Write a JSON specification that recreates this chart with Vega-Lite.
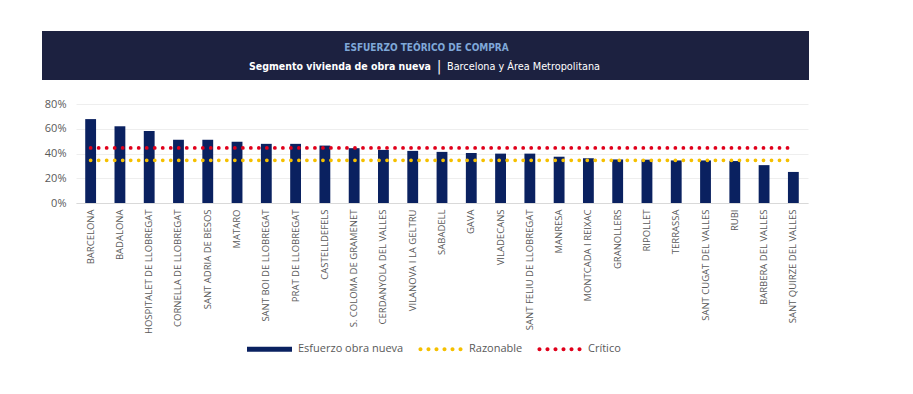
{
  "$schema": "https://vega.github.io/schema/vega-lite/v6.json",
  "padding": {"left": 44, "top": 31, "right": 0, "bottom": 0},
  "background": "white",
  "spacing": 18,
  "config": {
    "view": {"stroke": null},
    "font": "Open Sans",
    "axis": {"labelFont": "Open Sans", "labelColor": "#595959"}
  },
  "vconcat": [
    {
      "width": 733,
      "height": 49,
      "view": {"fill": "#1c2140", "stroke": null},
      "data": {"values": [
        {"k": "a", "part": "title", "t": "ESFUERZO TEÓRICO DE COMPRA"},
        {"k": "b", "part": "bold", "t": "Segmento vivienda de obra nueva"},
        {"k": "b", "part": "bar", "t": "|"},
        {"k": "b", "part": "reg", "t": "Barcelona y Área Metropolitana"}
      ]},
      "encoding": {
        "y": {
          "field": "k", "type": "nominal", "title": null,
          "scale": {"type": "point", "domain": ["a", "b"], "padding": 0.76},
          "axis": {"labels": false, "ticks": false, "grid": false, "domain": true, "domainColor": "#1c2140", "domainWidth": 36, "offset": 16, "domainCap": "butt", "translate": 0}
        },
        "text": {"field": "t"}
      },
      "layer": [
        {"transform": [{"filter": "datum.part === 'title'"}], "mark": {"type": "text", "font": "DejaVu Sans Condensed, Roboto", "fontWeight": "bold", "fontSize": 10, "color": "#7fa8d8", "align": "center", "baseline": "middle", "dx": -16, "dy": 2}},
        {"transform": [{"filter": "datum.part === 'bold'"}], "mark": {"type": "text", "font": "DejaVu Sans Condensed, Roboto", "fontWeight": "bold", "fontSize": 10.5, "color": "#ffffff", "align": "right", "baseline": "middle", "dx": -11.5, "dy": 2}},
        {"transform": [{"filter": "datum.part === 'bar'"}], "mark": {"type": "text", "font": "DejaVu Sans Condensed, Roboto", "fontSize": 14, "color": "#ffffff", "align": "center", "baseline": "middle", "dx": -3.5, "dy": 2}},
        {"transform": [{"filter": "datum.part === 'reg'"}], "mark": {"type": "text", "font": "DejaVu Sans Condensed, Roboto", "fontSize": 10.8, "color": "#ffffff", "align": "left", "baseline": "middle", "dx": 4.5, "dy": 2}}
      ]
    },
    {
      "width": 732,
      "height": 99,
      "data": {"values": [
        {"municipio": "BARCELONA", "esfuerzo": 0.678, "razonable": 0.345, "critico": 0.445},
        {"municipio": "BADALONA", "esfuerzo": 0.62, "razonable": 0.345, "critico": 0.445},
        {"municipio": "HOSPITALET DE LLOBREGAT", "esfuerzo": 0.582, "razonable": 0.345, "critico": 0.445},
        {"municipio": "CORNELLA DE LLOBREGAT", "esfuerzo": 0.511, "razonable": 0.345, "critico": 0.445},
        {"municipio": "SANT ADRIA DE BESOS", "esfuerzo": 0.511, "razonable": 0.345, "critico": 0.445},
        {"municipio": "MATARO", "esfuerzo": 0.495, "razonable": 0.345, "critico": 0.445},
        {"municipio": "SANT BOI DE LLOBREGAT", "esfuerzo": 0.478, "razonable": 0.345, "critico": 0.445},
        {"municipio": "PRAT DE LLOBREGAT", "esfuerzo": 0.478, "razonable": 0.345, "critico": 0.445},
        {"municipio": "CASTELLDEFELS", "esfuerzo": 0.464, "razonable": 0.345, "critico": 0.445},
        {"municipio": "S. COLOMA DE GRAMENET", "esfuerzo": 0.443, "razonable": 0.345, "critico": 0.445},
        {"municipio": "CERDANYOLA DEL VALLES", "esfuerzo": 0.429, "razonable": 0.345, "critico": 0.445},
        {"municipio": "VILANOVA I LA GELTRU", "esfuerzo": 0.421, "razonable": 0.345, "critico": 0.445},
        {"municipio": "SABADELL", "esfuerzo": 0.413, "razonable": 0.345, "critico": 0.445},
        {"municipio": "GAVA", "esfuerzo": 0.404, "razonable": 0.345, "critico": 0.445},
        {"municipio": "VILADECANS", "esfuerzo": 0.399, "razonable": 0.345, "critico": 0.445},
        {"municipio": "SANT FELIU DE LLOBREGAT", "esfuerzo": 0.399, "razonable": 0.345, "critico": 0.445},
        {"municipio": "MANRESA", "esfuerzo": 0.374, "razonable": 0.345, "critico": 0.445},
        {"municipio": "MONTCADA I REIXAC", "esfuerzo": 0.361, "razonable": 0.345, "critico": 0.445},
        {"municipio": "GRANOLLERS", "esfuerzo": 0.352, "razonable": 0.345, "critico": 0.445},
        {"municipio": "RIPOLLET", "esfuerzo": 0.35, "razonable": 0.345, "critico": 0.445},
        {"municipio": "TERRASSA", "esfuerzo": 0.344, "razonable": 0.345, "critico": 0.445},
        {"municipio": "SANT CUGAT DEL VALLES", "esfuerzo": 0.344, "razonable": 0.345, "critico": 0.445},
        {"municipio": "RUBI", "esfuerzo": 0.339, "razonable": 0.345, "critico": 0.445},
        {"municipio": "BARBERA DEL VALLES", "esfuerzo": 0.306, "razonable": 0.345, "critico": 0.445},
        {"municipio": "SANT QUIRZE DEL VALLES", "esfuerzo": 0.251, "razonable": 0.345, "critico": 0.445}
      ]},
      "encoding": {
        "x": {
          "field": "municipio", "type": "nominal", "sort": null, "title": null,
          "scale": {"paddingInner": 0.63, "paddingOuter": 0.315},
          "axis": {"labelAngle": -90, "labelFontSize": 9.5, "labelPadding": 6, "ticks": false, "domainColor": "#d9d9d9", "grid": false, "labelLimit": 200}
        }
      },
      "layer": [
        {
          "mark": {"type": "bar", "color": "#0a2160"},
          "encoding": {
            "y": {
              "field": "esfuerzo", "type": "quantitative", "title": null,
              "scale": {"domain": [0, 0.8]},
              "axis": {"values": [0, 0.2, 0.4, 0.6, 0.8], "format": ".0%", "labelFontSize": 11, "labelPadding": 10, "labelOverlap": false, "ticks": false, "domain": false, "gridColor": "#eeeeee"}
            },
            "color": {
              "datum": "Esfuerzo obra nueva",
              "scale": {"domain": ["Esfuerzo obra nueva", "Razonable", "Crítico"], "range": ["#0a2160", "#f5c000", "#e0001b"]},
              "legend": {
                "title": null, "orient": "none", "legendX": 171, "legendY": 295.5, "direction": "horizontal",
                "labelFontSize": 11, "labelColor": "#595959", "labelFont": "Open Sans",
                "symbolSize": 2025, "labelOffset": 6, "columnPadding": 14,
                "encode": {
                  "symbols": {
                    "update": {
                      "shape": {"signal": "datum.value === 'Esfuerzo obra nueva' ? 'M-1,-0.11H1V0.11H-1Z' : 'M-0.98,0a0.09,0.09 0 1,0 0.18,0a0.09,0.09 0 1,0 -0.18,0M-0.624,0a0.09,0.09 0 1,0 0.18,0a0.09,0.09 0 1,0 -0.18,0M-0.268,0a0.09,0.09 0 1,0 0.18,0a0.09,0.09 0 1,0 -0.18,0M0.088,0a0.09,0.09 0 1,0 0.18,0a0.09,0.09 0 1,0 -0.18,0M0.444,0a0.09,0.09 0 1,0 0.18,0a0.09,0.09 0 1,0 -0.18,0M0.8,0a0.09,0.09 0 1,0 0.18,0a0.09,0.09 0 1,0 -0.18,0'"},
                      "fill": {"scale": "color", "field": "value"},
                      "fillOpacity": {"value": 1},
                      "strokeWidth": {"value": 0},
                      "opacity": {"value": 1},
                      "size": {"value": 2025}
                    }
                  }
                }
              }
            }
          }
        },
        {
          "mark": {"type": "line", "strokeWidth": 3.8, "strokeDash": [0.01, 8], "strokeCap": "round"},
          "encoding": {
            "y": {
              "field": "razonable", "type": "quantitative", "title": null,
              "axis": {"values": [0, 0.2, 0.4, 0.6, 0.8], "format": ".0%", "labelFontSize": 11, "labelPadding": 10, "labelOverlap": false, "ticks": false, "domain": false, "gridColor": "#eeeeee"}
            },
            "color": {"datum": "Razonable"}
          }
        },
        {
          "mark": {"type": "line", "strokeWidth": 3.8, "strokeDash": [0.01, 8], "strokeCap": "round"},
          "encoding": {
            "y": {
              "field": "critico", "type": "quantitative", "title": null,
              "axis": {"values": [0, 0.2, 0.4, 0.6, 0.8], "format": ".0%", "labelFontSize": 11, "labelPadding": 10, "labelOverlap": false, "ticks": false, "domain": false, "gridColor": "#eeeeee"}
            },
            "color": {"datum": "Crítico"}
          }
        }
      ]
    }
  ]
}
